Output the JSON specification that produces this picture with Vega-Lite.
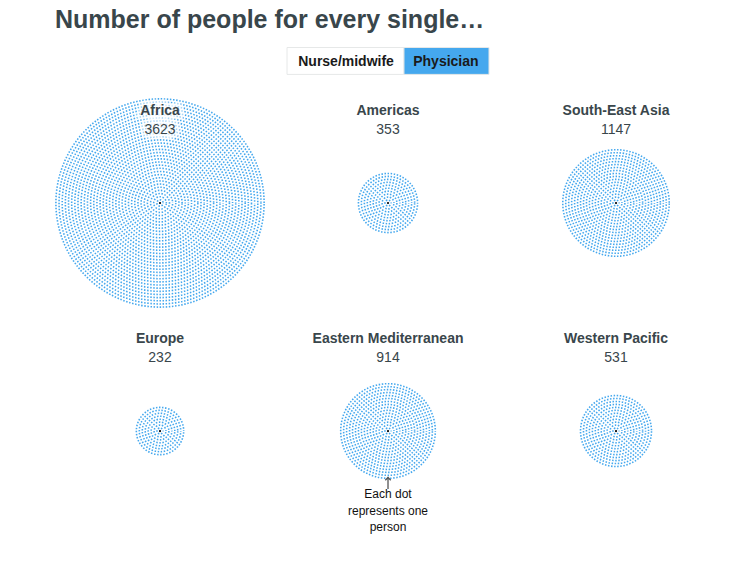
{
"$schema":"https://vega.github.io/schema/vega-lite/v6.json",
"description":"Dot fields are approximated: each row in 'rings' is one dotted concentric ring (radius in px), not one person. Individual dot positions are not reproduced.",
"width":756,"height":537,"autosize":{"type":"none"},"padding":{"left":0,"right":0,"top":40,"bottom":0},
"background":"white",
"title":{"text":"Number of people for every single…","anchor":"start","frame":"group","dx":55,"offset":7,"font":"Liberation Sans","fontSize":25,"fontWeight":"bold","color":"#39464b"},
"config":{"view":{"stroke":null}},
"datasets":{
"regions":[
{"region":"Africa","people":3623,"col":0,"row":0},
{"region":"Americas","people":353,"col":1,"row":0},
{"region":"South-East Asia","people":1147,"col":2,"row":0},
{"region":"Europe","people":232,"col":0,"row":1},
{"region":"Eastern Mediterranean","people":914,"col":1,"row":1},
{"region":"Western Pacific","people":531,"col":2,"row":1}],
"rings":[
{"col":0,"row":0,"ring":3.2},{"col":0,"row":0,"ring":6.4},{"col":0,"row":0,"ring":9.6},{"col":0,"row":0,"ring":12.8},{"col":0,"row":0,"ring":16},{"col":0,"row":0,"ring":19.2},{"col":0,"row":0,"ring":22.4},{"col":0,"row":0,"ring":25.6},{"col":0,"row":0,"ring":28.8},{"col":0,"row":0,"ring":32},{"col":0,"row":0,"ring":35.2},{"col":0,"row":0,"ring":38.4},{"col":0,"row":0,"ring":41.6},{"col":0,"row":0,"ring":44.8},{"col":0,"row":0,"ring":48},{"col":0,"row":0,"ring":51.2},{"col":0,"row":0,"ring":54.4},{"col":0,"row":0,"ring":57.6},{"col":0,"row":0,"ring":60.8},{"col":0,"row":0,"ring":64},{"col":0,"row":0,"ring":67.2},{"col":0,"row":0,"ring":70.4},{"col":0,"row":0,"ring":73.6},{"col":0,"row":0,"ring":76.8},{"col":0,"row":0,"ring":80},{"col":0,"row":0,"ring":83.2},{"col":0,"row":0,"ring":86.4},{"col":0,"row":0,"ring":89.6},{"col":0,"row":0,"ring":92.8},{"col":0,"row":0,"ring":96},{"col":0,"row":0,"ring":99.2},{"col":0,"row":0,"ring":102.4},{"col":0,"row":0,"ring":105.6},
{"col":1,"row":0,"ring":3},{"col":1,"row":0,"ring":6},{"col":1,"row":0,"ring":9},{"col":1,"row":0,"ring":12},{"col":1,"row":0,"ring":15},{"col":1,"row":0,"ring":18},{"col":1,"row":0,"ring":21},{"col":1,"row":0,"ring":24},{"col":1,"row":0,"ring":27},{"col":1,"row":0,"ring":30},
{"col":2,"row":0,"ring":3},{"col":2,"row":0,"ring":6},{"col":2,"row":0,"ring":9},{"col":2,"row":0,"ring":12},{"col":2,"row":0,"ring":15},{"col":2,"row":0,"ring":18},{"col":2,"row":0,"ring":21},{"col":2,"row":0,"ring":24},{"col":2,"row":0,"ring":27},{"col":2,"row":0,"ring":30},{"col":2,"row":0,"ring":33},{"col":2,"row":0,"ring":36},{"col":2,"row":0,"ring":39},{"col":2,"row":0,"ring":42},{"col":2,"row":0,"ring":45},{"col":2,"row":0,"ring":48},{"col":2,"row":0,"ring":51},{"col":2,"row":0,"ring":54},
{"col":0,"row":1,"ring":3},{"col":0,"row":1,"ring":6},{"col":0,"row":1,"ring":9},{"col":0,"row":1,"ring":12},{"col":0,"row":1,"ring":15},{"col":0,"row":1,"ring":18},{"col":0,"row":1,"ring":21},{"col":0,"row":1,"ring":24},
{"col":1,"row":1,"ring":3},{"col":1,"row":1,"ring":6},{"col":1,"row":1,"ring":9},{"col":1,"row":1,"ring":12},{"col":1,"row":1,"ring":15},{"col":1,"row":1,"ring":18},{"col":1,"row":1,"ring":21},{"col":1,"row":1,"ring":24},{"col":1,"row":1,"ring":27},{"col":1,"row":1,"ring":30},{"col":1,"row":1,"ring":33},{"col":1,"row":1,"ring":36},{"col":1,"row":1,"ring":39},{"col":1,"row":1,"ring":42},{"col":1,"row":1,"ring":45},{"col":1,"row":1,"ring":48},
{"col":2,"row":1,"ring":3},{"col":2,"row":1,"ring":6},{"col":2,"row":1,"ring":9},{"col":2,"row":1,"ring":12},{"col":2,"row":1,"ring":15},{"col":2,"row":1,"ring":18},{"col":2,"row":1,"ring":21},{"col":2,"row":1,"ring":24},{"col":2,"row":1,"ring":27},{"col":2,"row":1,"ring":30},{"col":2,"row":1,"ring":33},{"col":2,"row":1,"ring":36}],
"toggle":[
{"label":"Nurse/midwife","x0":0.557,"x1":1.07,"mid":0.816,"y0":-0.682,"y1":-0.564,"yc":-0.618,"state":"off"},
{"label":"Physician","x0":1.07,"x1":1.443,"mid":1.254,"y0":-0.682,"y1":-0.564,"yc":-0.618,"state":"on"}],
"note":[{"col":1,"row":1,"from":1.254,"to":1.204,"label":"Each dot\nrepresents one\nperson","labelY":1.2546}]
},
"data":{"name":"regions"},
"encoding":{
"x":{"field":"col","type":"quantitative","axis":null,"scale":{"domain":[-0.7018,2.614]}},
"y":{"field":"row","type":"quantitative","axis":null,"scale":{"domain":[1.6403,-0.7149]}}
},
"layer":[
{"data":{"name":"rings"},
 "mark":{"type":"point","filled":false,"stroke":"#45a8ee","strokeWidth":1.6,"strokeDash":[1.5,1.6],"strokeDashOffset":{"expr":"datum.ring*1.37"},"opacity":1},
 "encoding":{"size":{"field":"ring","type":"quantitative","legend":null,"scale":{"type":"pow","exponent":2,"domain":[0,106],"range":[0,43681]}}}},
{"mark":{"type":"point","filled":true,"color":"#000000","size":5,"opacity":1}},
{"mark":{"type":"text","dy":-92,"font":"Liberation Sans","fontSize":14,"fontWeight":"bold","stroke":"white","strokeWidth":9,"strokeOpacity":0.55,"strokeJoin":"round","fill":"white"},"encoding":{"text":{"field":"region"}}},
{"mark":{"type":"text","dy":-73,"font":"Liberation Sans","fontSize":14,"stroke":"white","strokeWidth":9,"strokeOpacity":0.55,"strokeJoin":"round","fill":"white"},"encoding":{"text":{"field":"people","type":"quantitative"}}},
{"mark":{"type":"text","dy":-92,"font":"Liberation Sans","fontSize":14,"fontWeight":"bold","color":"#39464b"},"encoding":{"text":{"field":"region"}}},
{"mark":{"type":"text","dy":-73,"font":"Liberation Sans","fontSize":14,"color":"#39464b"},"encoding":{"text":{"field":"people","type":"quantitative"}}},
{"data":{"name":"toggle"},
 "mark":{"type":"rect","stroke":"#e6e8e8","strokeWidth":1},
 "encoding":{"x":{"field":"x0","type":"quantitative"},"x2":{"field":"x1"},"y":{"field":"y0","type":"quantitative"},"y2":{"field":"y1"},
 "fill":{"field":"state","type":"nominal","legend":null,"scale":{"domain":["off","on"],"range":["#ffffff","#45a8ee"]}}}},
{"data":{"name":"toggle"},
 "mark":{"type":"text","font":"Liberation Sans","fontSize":14,"fontWeight":"bold","color":"#1a1a1a"},
 "encoding":{"x":{"field":"mid","type":"quantitative"},"y":{"field":"yc","type":"quantitative"},"text":{"field":"label"}}},
{"data":{"name":"note"},
 "mark":{"type":"rule","color":"#555555","strokeWidth":1.3},
 "encoding":{"y":{"field":"from","type":"quantitative"},"y2":{"field":"to"}}},
{"data":{"name":"note"},
 "mark":{"type":"point","shape":"M-1,1L0,0L1,1","filled":false,"color":"#555555","strokeWidth":1.3,"size":30,"opacity":1},
 "encoding":{"y":{"field":"to","type":"quantitative"}}},
{"data":{"name":"note"},
 "mark":{"type":"text","font":"Liberation Sans","fontSize":12,"color":"#111111","lineBreak":"\n","lineHeight":16.5,"baseline":"top"},
 "encoding":{"y":{"field":"labelY","type":"quantitative"},"text":{"field":"label"}}}
]
}
